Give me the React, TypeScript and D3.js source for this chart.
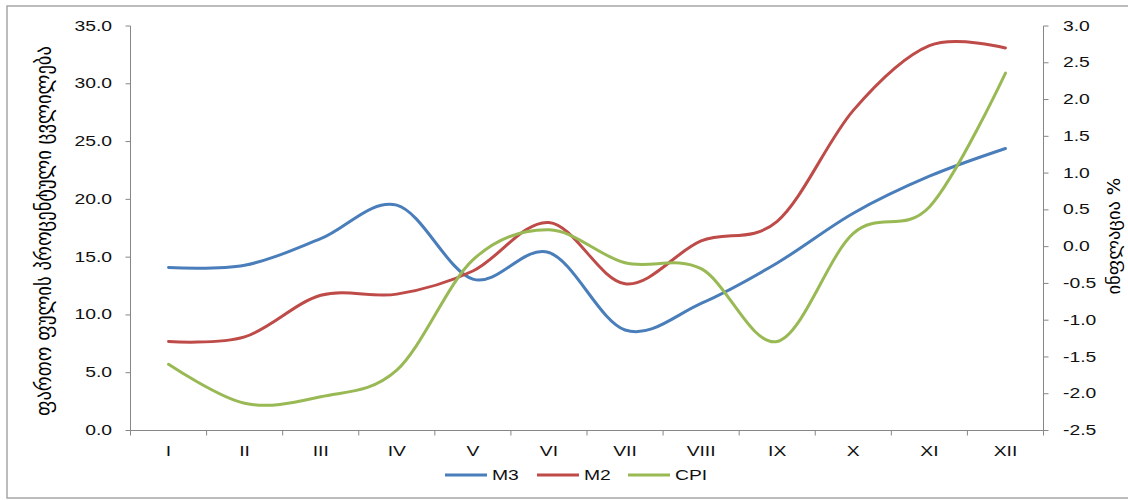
import React from "react";
import * as d3 from "d3";

const categories = ["I", "II", "III", "IV", "V", "VI", "VII", "VIII", "IX", "X", "XI", "XII"];
const m3 = [14.1, 14.3, 16.6, 19.5, 13.1, 15.4, 8.7, 11.0, 14.5, 18.8, 22.0, 24.4];
const m2 = [7.7, 8.1, 11.7, 11.8, 13.8, 18.0, 12.7, 16.4, 18.1, 27.7, 33.3, 33.1];
const cpi = [-1.6, -2.13, -2.04, -1.68, -0.18, 0.23, -0.22, -0.3, -1.29, 0.18, 0.54, 2.36];
const leftTicks = [0, 5, 10, 15, 20, 25, 30, 35];
const rightTicks = [-2.5, -2.0, -1.5, -1.0, -0.5, 0.0, 0.5, 1.0, 1.5, 2.0, 2.5, 3.0];
const leftTitle = "ფართო ფულის პროცენტული ცვლილება";
const rightTitle = "ინფლაცია %";
const seriesNames = ["M3", "M2", "CPI"];

const W = 1128;
const H = 500;
const plotL = 130.5;
const plotR = 1043.5;
const plotT = 26;
const plotB = 430.5;
const colors = ["#4A7EBB", "#BE4B48", "#98B954"];
const axisColor = "#868686";
const font = "'Liberation Sans', Arial, sans-serif";
const SX = 1.38;

function T({ x, y, anchor = "start", children, size = 14 }: any) {
  return (
    <text
      transform={`translate(${x},${y}) scale(${SX},1)`}
      textAnchor={anchor}
      dominantBaseline="central"
      fontFamily={font}
      fontSize={size}
      fill="#111"
    >
      {children}
    </text>
  );
}

export default function App() {
  const x = d3.scaleBand<string>().domain(categories).range([plotL, plotR]);
  const cx = (c: string) => (x(c) as number) + x.bandwidth() / 2;
  const yL = d3.scaleLinear().domain([0, 35]).range([plotB, plotT]);
  const yR = d3.scaleLinear().domain([-2.5, 3]).range([plotB, plotT]);
  const curve = d3.curveCardinal.tension(0);
  const lineL = d3
    .line<number>()
    .x((_, i) => cx(categories[i]))
    .y((d) => yL(d))
    .curve(curve);
  const lineR = d3
    .line<number>()
    .x((_, i) => cx(categories[i]))
    .y((d) => yR(d))
    .curve(curve);
  const bounds = categories.map((c) => x(c) as number).concat([plotR]);
  const legendX = [445, 537, 628];

  return (
    <svg width={W} height={H} style={{ position: "absolute", left: 0, top: 0 }}>
      <rect x={0} y={0} width={W} height={H} fill="#fff" />
      <rect x={7} y={6} width={W} height={492} fill="none" stroke="#a6a6a6" strokeWidth={1.5} />
      {/* left axis */}
      <line x1={plotL} x2={plotL} y1={plotT} y2={plotB} stroke={axisColor} />
      {leftTicks.map((t) => (
        <g key={"l" + t}>
          <line x1={plotL - 5} x2={plotL} y1={yL(t)} y2={yL(t)} stroke={axisColor} />
          <T x={112} y={yL(t)} anchor="end">
            {t.toFixed(1)}
          </T>
        </g>
      ))}
      {/* right axis */}
      <line x1={plotR} x2={plotR} y1={plotT} y2={plotB} stroke={axisColor} />
      {rightTicks.map((t) => (
        <g key={"r" + t}>
          <line x1={plotR} x2={plotR + 5} y1={yR(t)} y2={yR(t)} stroke={axisColor} />
          <T x={1063} y={yR(t)}>
            {t.toFixed(1)}
          </T>
        </g>
      ))}
      {/* bottom axis */}
      <line x1={plotL} x2={plotR} y1={plotB} y2={plotB} stroke={axisColor} />
      {bounds.map((b, i) => (
        <line key={"b" + i} x1={b} x2={b} y1={plotB} y2={plotB + 5} stroke={axisColor} />
      ))}
      {categories.map((c) => (
        <T key={c} x={cx(c)} y={451} anchor="middle">
          {c}
        </T>
      ))}
      {/* titles */}
      <text
        transform={`translate(44,231) scale(1.3,1) rotate(-90)`}
        textAnchor="middle"
        dominantBaseline="central"
        fontFamily="'DejaVu Sans', sans-serif"
        fontSize={17}
        textLength={370}
        lengthAdjust="spacingAndGlyphs"
        fill="#000"
      >
        {leftTitle}
      </text>
      <text
        transform={`translate(1114,236) scale(1.15,1) rotate(-90)`}
        textAnchor="middle"
        dominantBaseline="central"
        fontFamily="'DejaVu Sans', sans-serif"
        fontSize={16}
        textLength={117}
        lengthAdjust="spacingAndGlyphs"
        fill="#000"
      >
        {rightTitle}
      </text>
      {/* lines */}
      <path d={lineL(m3) as string} fill="none" stroke={colors[0]} strokeWidth={3} strokeLinecap="round" />
      <path d={lineL(m2) as string} fill="none" stroke={colors[1]} strokeWidth={3} strokeLinecap="round" />
      <path d={lineR(cpi) as string} fill="none" stroke={colors[2]} strokeWidth={3} strokeLinecap="round" />
      {/* legend */}
      {seriesNames.map((n, i) => (
        <g key={n}>
          <line x1={legendX[i]} x2={legendX[i] + 42} y1={475} y2={475} stroke={colors[i]} strokeWidth={3} />
          <T x={legendX[i] + 47} y={475}>
            {n}
          </T>
        </g>
      ))}
    </svg>
  );
}
